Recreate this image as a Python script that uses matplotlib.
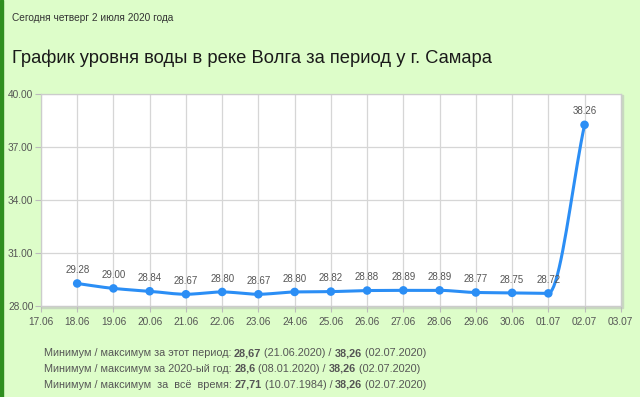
import numpy as np
from matplotlib import pyplot as plt
from matplotlib.patches import Rectangle

dates = ['17.06', '18.06', '19.06', '20.06', '21.06', '22.06', '23.06', '24.06', '25.06',
         '26.06', '27.06', '28.06', '29.06', '30.06', '01.07', '02.07', '03.07']
levels = [29.28, 29.00, 28.84, 28.67, 28.80, 28.67, 28.80, 28.82,
          28.88, 28.89, 28.89, 28.77, 28.75, 28.72, 38.26]
level_labels = ['29.28', '29.00', '28.84', '28.67', '28.80', '28.67', '28.80', '28.82',
                '28.88', '28.89', '28.89', '28.77', '28.75', '28.72', '38.26']
yticks = [28, 31, 34, 37, 40]

subtitle = 'Сегодня четверг 2 июля 2020 года'
title = 'График уровня воды в реке Волга за период у г. Самара'
stats = [
    ('Минимум / максимум за этот период: ', '28,67', ' (21.06.2020) / ', '38,26', ' (02.07.2020)'),
    ('Минимум / максимум за 2020-ый год: ', '28,6', ' (08.01.2020) / ', '38,26', ' (02.07.2020)'),
    ('Минимум / максимум  за  всё  время: ', '27,71', ' (10.07.1984) / ', '38,26', ' (02.07.2020)'),
]

bg = '#ddfdc9'
blue = '#2b8ef5'
grey = '#555555'

x = np.arange(1, len(levels) + 1)


def smooth(xs, ys, n=20):
    # monotone cubic (Fritsch-Carlson) so the line looks like the web chart
    xs = np.asarray(xs, float)
    ys = np.asarray(ys, float)
    h = np.diff(xs)
    d = np.diff(ys) / h
    m = np.zeros_like(ys)
    m[0], m[-1] = d[0], d[-1]
    for i in range(1, len(ys) - 1):
        if d[i - 1] * d[i] <= 0:
            m[i] = 0
        else:
            m[i] = 2 / (1 / d[i - 1] + 1 / d[i])
    px, py = [], []
    for i in range(len(xs) - 1):
        t = np.linspace(0, 1, n, endpoint=False)
        h00 = 2 * t**3 - 3 * t**2 + 1
        h10 = t**3 - 2 * t**2 + t
        h01 = -2 * t**3 + 3 * t**2
        h11 = t**3 - t**2
        px.extend(xs[i] + t * h[i])
        py.extend(h00 * ys[i] + h10 * h[i] * m[i] + h01 * ys[i + 1] + h11 * h[i] * m[i + 1])
    px.append(xs[-1])
    py.append(ys[-1])
    return np.array(px), np.array(py)


fig = plt.figure(figsize=(6.4, 3.97), dpi=100, facecolor=bg)
fig.patches.append(Rectangle((0, 0), 0.004, 1, transform=fig.transFigure,
                             color='#2f8f1f', zorder=5))

fig.text(0.019, 0.948, subtitle, fontsize=7.3, color='#333333', family='Liberation Sans')
fig.text(0.019, 0.842, title, fontsize=13.2, color='#1a1a1a', family='Liberation Sans')

# soft shadow on the right and bottom
fig.patches.append(Rectangle((0.066, 0.224), 0.908, 0.536, transform=fig.transFigure,
                             color='#c8d8c0', zorder=-1))
ax = fig.add_axes([0.064, 0.229, 0.906, 0.534], zorder=2)
ax.set_facecolor('white')

sx, sy = smooth(x, levels)
ax.plot(sx, sy, color=blue, lw=2.2, zorder=3, solid_capstyle='round')
ax.scatter(x, levels, s=38, color=blue, zorder=4, edgecolors='none')
for xi, yi, lab in zip(x, levels, level_labels):
    ax.annotate(lab, (xi, yi), xytext=(0, 6), textcoords='offset points',
                ha='center', va='bottom', fontsize=7, color=grey, family='Liberation Sans')

ax.set_xlim(0, len(dates) - 1)
ax.set_ylim(28, 40)
ax.set_xticks(range(len(dates)))
ax.set_xticklabels(dates)
ax.set_yticks(yticks)
ax.set_yticklabels(['%.2f' % v for v in yticks])
ax.grid(True, color='#d6d6d6', lw=0.9)
ax.set_axisbelow(True)
for s in ax.spines.values():
    s.set_color('#cccccc')
    s.set_linewidth(0.9)
ax.tick_params(colors='#bbbbbb', labelcolor=grey, labelsize=7.3, length=4, width=0.8)
ax.tick_params(axis='y', pad=1.5)
for lab in ax.get_xticklabels() + ax.get_yticklabels():
    lab.set_family('Liberation Sans')

# stats block under the chart
y0 = 0.103
for row in stats:
    t = None
    xpos = 0.068
    for k, part in enumerate(row):
        weight = 'bold' if k in (1, 3) else 'normal'
        if t is None:
            t = fig.text(xpos, y0, part, fontsize=7.85, color=grey, weight=weight,
                         family='Liberation Sans')
        else:
            t = ax.annotate(part, xycoords=t, xy=(1, 0), va='bottom', fontsize=7.85,
                            color=grey, weight=weight, family='Liberation Sans',
                            annotation_clip=False)
    y0 -= 0.040

fig.savefig('out.png', dpi=100, facecolor=bg)
